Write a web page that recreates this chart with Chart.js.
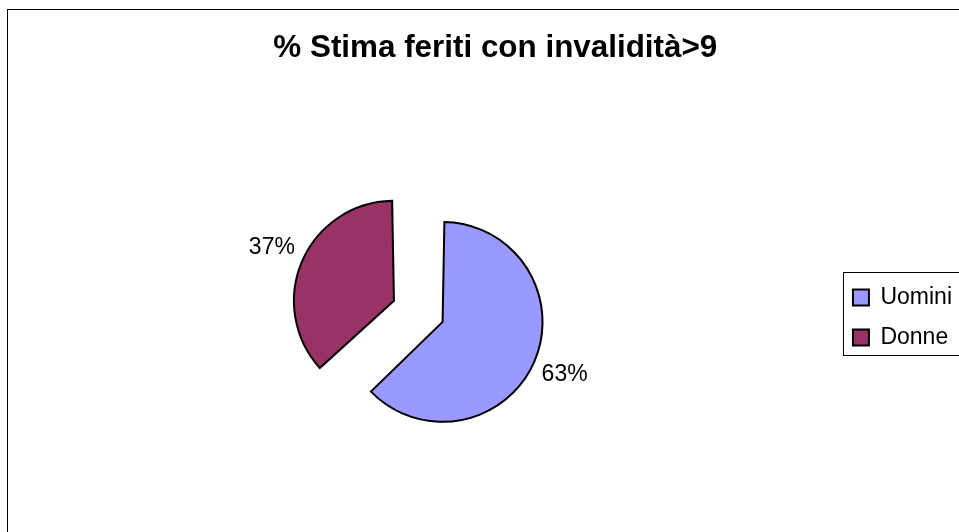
<!DOCTYPE html>
<html>
<head>
<meta charset="utf-8">
<script src="https://cdn.jsdelivr.net/npm/chart.js@4"></script>
<style>
  html, body { margin: 0; padding: 0; background: #fff; overflow: hidden; }
  #frame { position: absolute; left: 7px; top: 9px; width: 966px; height: 560px; border: 1px solid #000; }
  canvas { display: block; }
</style>
</head>
<body>
<div id="frame"><canvas id="myChart" width="966" height="560"></canvas></div>
<script>
const labels = ["Uomini", "Donne"];
const shares = [63, 37];
const titleText = "% Stima feriti con invalidità>9";

const FONT = "'Liberation Sans', Arial, sans-serif";

// percentage labels outside each slice, along its bisector
const outsideLabels = {
  id: "outsideLabels",
  afterDatasetsDraw(chart) {
    const ctx = chart.ctx;
    const meta = chart.getDatasetMeta(0);
    ctx.save();
    ctx.font = "23px " + FONT;
    ctx.fillStyle = "#000";
    ctx.textAlign = "center";
    ctx.textBaseline = "middle";
    meta.data.forEach((arc, i) => {
      const p = arc.getProps(["x", "y", "startAngle", "endAngle", "outerRadius", "circumference"]);
      const off = (arc.options.offset || 0) / 4;
      const fix = 1 - Math.sin(Math.min(Math.PI, p.circumference));
      const r = p.outerRadius + off * fix;
      const mid = (p.startAngle + p.endAngle) / 2;
      const d = off + r + 33;
      ctx.fillText(shares[i] + "%", p.x + Math.cos(mid) * d, p.y + Math.sin(mid) * d);
    });
    ctx.restore();
  },
};

// thin frame round the legend items
const legendFrame = {
  id: "legendFrame",
  afterDraw(chart) {
    const boxes = chart.legend.legendHitBoxes;
    if (!boxes || !boxes.length) return;
    const left = Math.min(...boxes.map((b) => b.left)) - 10;
    const top = Math.min(...boxes.map((b) => b.top)) - 14;
    const bottom = Math.max(...boxes.map((b) => b.top + b.height)) + 6;
    const right = Math.max(...boxes.map((b) => b.left + b.width)) + 22;
    const ctx = chart.ctx;
    ctx.save();
    ctx.strokeStyle = "#000";
    ctx.lineWidth = 1;
    ctx.strokeRect(Math.round(left) + 0.5, Math.round(top) + 0.5, Math.round(right - left), Math.round(bottom - top));
    ctx.restore();
  },
};

const data = {
  labels: labels,
  datasets: [
    {
      data: shares,
      backgroundColor: ["#9999ff", "#993366"],
      borderColor: "#000",
      borderWidth: 2,
      borderJoinStyle: "miter",
      offset: [45, 167],
    },
  ],
};

const config = {
  type: "pie",
  data: data,
  options: {
    responsive: false,
    animation: false,
    radius: 88.7,
    layout: { padding: { left: 20.6, right: 12, top: 0, bottom: 22.8 } },
    plugins: {
      title: {
        display: true,
        text: titleText,
        color: "#000",
        font: { family: FONT, size: 31.4, weight: "bold" },
        padding: { top: 20, bottom: 20 },
      },
      legend: {
        position: "right",
        fullSize: false,
        labels: {
          color: "#000",
          font: { family: FONT, size: 23 },
          boxWidth: 16,
          boxHeight: 16,
          padding: 17,
        },
      },
      tooltip: { enabled: false },
    },
  },
  plugins: [outsideLabels, legendFrame],
};
var myChart = new Chart(document.getElementById("myChart"), config);
</script>
</body>
</html>
